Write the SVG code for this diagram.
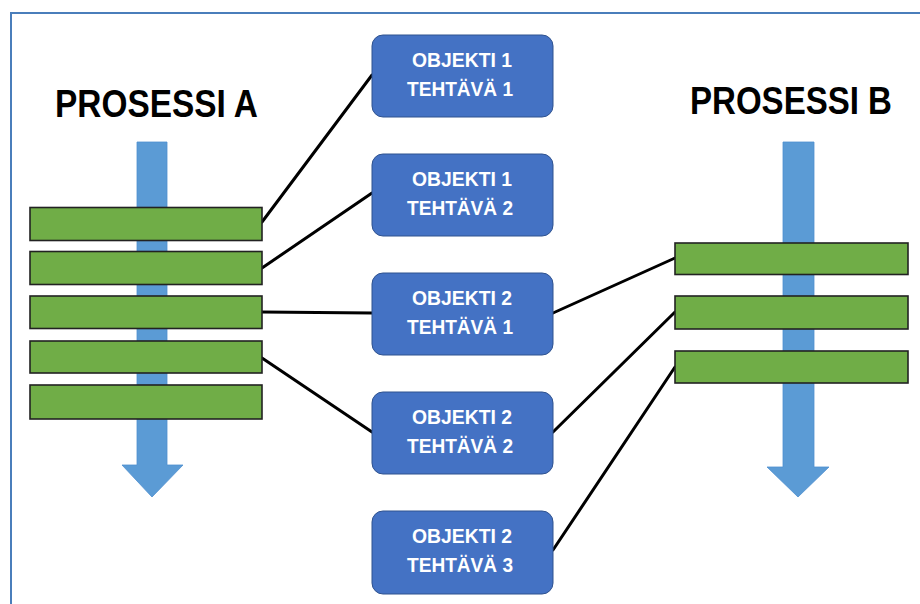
<svg xmlns="http://www.w3.org/2000/svg" width="920" height="604" viewBox="0 0 920 604">
  <style>
    .frame { fill: none; stroke: #4a7ebb; stroke-width: 2; }
    .flow { fill: #5b9bd5; stroke: #4f8fcf; stroke-width: 0.8; }
    .step { fill: #70ad47; stroke: #222; stroke-width: 1.6; }
    .task { fill: #4472c4; stroke: #2f528f; stroke-width: 1; }
    .title { font-family: "Liberation Sans", Arial, sans-serif; font-weight: bold; font-size: 33px; fill: #000; }
    .label { font-family: "Liberation Sans", Arial, sans-serif; font-weight: bold; font-size: 20.5px; fill: #fff; text-anchor: middle; }
    .link { stroke: #000; stroke-width: 3; fill: none; stroke-linecap: round; }
  </style>

  <rect width="920" height="604" fill="#fff"/>
  <rect class="frame" x="11" y="13" width="940" height="640"/>

  <!-- Process A -->
  <g id="process-a">
    <text class="title" transform="translate(55,117) scale(1,1.2)" textLength="203" lengthAdjust="spacingAndGlyphs">PROSESSI A</text>
    <path class="flow" d="M137,142 H167 V465 H183 L152,497 L122,465 H137 Z"/>
  </g>

  <!-- Process B -->
  <g id="process-b">
    <text class="title" transform="translate(690,114) scale(1,1.2)" textLength="202" lengthAdjust="spacingAndGlyphs">PROSESSI B</text>
    <path class="flow" d="M783,142 H814 V467 H829 L798,497 L767,467 H783 Z"/>
  </g>

  <!-- Connectors -->
  <g id="connectors">
    <line class="link" x1="262" y1="222" x2="372" y2="75"/>
    <line class="link" x1="262" y1="268" x2="372" y2="193"/>
    <line class="link" x1="262" y1="312" x2="372" y2="313"/>
    <line class="link" x1="262" y1="358" x2="372" y2="432"/>
    <line class="link" x1="553" y1="313" x2="675" y2="258"/>
    <line class="link" x1="553" y1="432" x2="675" y2="312"/>
    <line class="link" x1="553" y1="550" x2="675" y2="367"/>
  </g>

  <!-- Steps of process A -->
  <g id="a-step-1"><rect class="step" x="30" y="207.5" width="232" height="33"/></g>
  <g id="a-step-2"><rect class="step" x="30" y="251.5" width="232" height="33"/></g>
  <g id="a-step-3"><rect class="step" x="30" y="296" width="232" height="32.5"/></g>
  <g id="a-step-4"><rect class="step" x="30" y="341" width="232" height="32"/></g>
  <g id="a-step-5"><rect class="step" x="30" y="385" width="232" height="34"/></g>

  <!-- Steps of process B -->
  <g id="b-step-1"><rect class="step" x="675" y="243" width="233" height="31.5"/></g>
  <g id="b-step-2"><rect class="step" x="675" y="296" width="233" height="33"/></g>
  <g id="b-step-3"><rect class="step" x="675" y="351" width="233" height="32"/></g>

  <!-- Object tasks -->
  <g id="task-o1-t1">
    <rect class="task" x="372" y="35" width="181" height="82" rx="11"/>
    <text class="label" x="462" y="67" textLength="100" lengthAdjust="spacingAndGlyphs">OBJEKTI 1</text>
    <text class="label" x="460" y="96" textLength="106" lengthAdjust="spacingAndGlyphs">TEHTÄVÄ 1</text>
  </g>
  <g id="task-o1-t2">
    <rect class="task" x="372" y="154" width="181" height="82" rx="11"/>
    <text class="label" x="462" y="186" textLength="100" lengthAdjust="spacingAndGlyphs">OBJEKTI 1</text>
    <text class="label" x="460" y="215" textLength="106" lengthAdjust="spacingAndGlyphs">TEHTÄVÄ 2</text>
  </g>
  <g id="task-o2-t1">
    <rect class="task" x="372" y="273" width="181" height="82" rx="11"/>
    <text class="label" x="462" y="305" textLength="100" lengthAdjust="spacingAndGlyphs">OBJEKTI 2</text>
    <text class="label" x="460" y="334" textLength="106" lengthAdjust="spacingAndGlyphs">TEHTÄVÄ 1</text>
  </g>
  <g id="task-o2-t2">
    <rect class="task" x="372" y="392" width="181" height="82" rx="11"/>
    <text class="label" x="462" y="424" textLength="100" lengthAdjust="spacingAndGlyphs">OBJEKTI 2</text>
    <text class="label" x="460" y="453" textLength="106" lengthAdjust="spacingAndGlyphs">TEHTÄVÄ 2</text>
  </g>
  <g id="task-o2-t3">
    <rect class="task" x="372" y="511" width="181" height="83" rx="11"/>
    <text class="label" x="462" y="543" textLength="100" lengthAdjust="spacingAndGlyphs">OBJEKTI 2</text>
    <text class="label" x="460" y="572" textLength="106" lengthAdjust="spacingAndGlyphs">TEHTÄVÄ 3</text>
  </g>
</svg>
